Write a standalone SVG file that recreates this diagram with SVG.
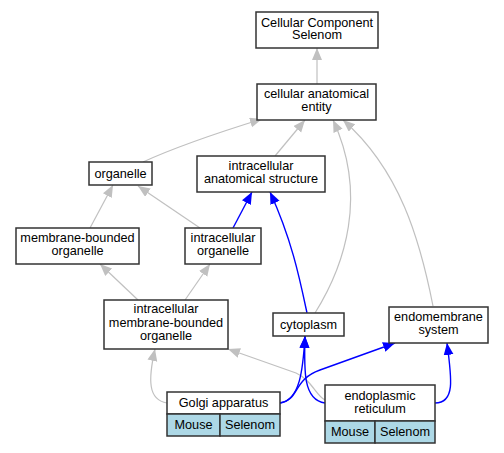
<svg xmlns="http://www.w3.org/2000/svg" width="504" height="453" viewBox="0 0 504 453">
<style>
text{font-family:"Liberation Sans",Arial,sans-serif;font-size:12.7px;fill:#000;text-anchor:middle}
.box{fill:#fff;stroke:#333;stroke-width:1.5}
.sp{fill:#add8e6;stroke:#333;stroke-width:1.5}
.g{fill:none;stroke:#c0c0c0;stroke-width:1.2}
.b{fill:none;stroke:#0000ff;stroke-width:1.4}
</style>
<defs>
<marker id="ag" markerUnits="userSpaceOnUse" markerWidth="13" markerHeight="11" refX="12" refY="5" orient="auto"><path d="M0,0 L12,5 L0,10 z" fill="#c0c0c0"/></marker>
<marker id="ab" markerUnits="userSpaceOnUse" markerWidth="13" markerHeight="11" refX="12" refY="5" orient="auto"><path d="M0,0 L12,5 L0,10 z" fill="#0000ff"/></marker>
</defs>
<rect width="504" height="453" fill="#fff"/>
<g id="connectors">
<path class="g" d="M317,84 L317,48" marker-end="url(#ag)"/>
<path class="g" d="M143,162 C180,145 220,132 262,119" marker-end="url(#ag)"/>
<path class="g" d="M275,156 L305,120" marker-end="url(#ag)"/>
<path class="g" d="M315,313 C345,265 368,195 333,120" marker-end="url(#ag)"/>
<path class="g" d="M433,306 C420,240 400,170 343,120" marker-end="url(#ag)"/>
<path class="g" d="M90,228 L113,185" marker-end="url(#ag)"/>
<path class="g" d="M200,228 L138,186" marker-end="url(#ag)"/>
<path class="b" d="M233,228 L252,192" marker-end="url(#ab)"/>
<path class="b" d="M307,313 C300,280 292,240 270,192" marker-end="url(#ab)"/>
<path class="g" d="M138,300 L100,264" marker-end="url(#ag)"/>
<path class="g" d="M185,300 L210,264" marker-end="url(#ag)"/>
<path class="g" d="M167,403 C148,400 148,380 155,349" marker-end="url(#ag)"/>
<path class="g" d="M325,400 C316,396 312,380 296,373 L228,349" marker-end="url(#ag)"/>
<path class="b" d="M280,403 C300,400 303,370 305,336" marker-end="url(#ab)"/>
<path class="b" d="M325,403 C303,400 304,370 305,336" marker-end="url(#ab)"/>
<path class="b" d="M280,403 C300,400 292,380 320,370 L395,343" marker-end="url(#ab)"/>
<path class="b" d="M435,403 C455,403 452,380 447,343" marker-end="url(#ab)"/>
</g>
<g id="ccs"><rect class="box" x="256" y="12" width="122" height="36"/><text x="317" y="26.5">Cellular Component</text><text x="317" y="39">Selenom</text></g>
<g id="cae"><rect class="box" x="257" y="84" width="119" height="36"/><text x="316.5" y="98">cellular anatomical</text><text x="316.5" y="111">entity</text></g>
<g id="organelle"><rect class="box" x="89" y="162" width="63" height="23"/><text x="120.5" y="177.5">organelle</text></g>
<g id="ias"><rect class="box" x="197" y="156" width="128" height="36"/><text x="261" y="169.5">intracellular</text><text x="261" y="182.5">anatomical structure</text></g>
<g id="mbo"><rect class="box" x="16" y="228" width="123" height="36"/><text x="77.5" y="241.5">membrane-bounded</text><text x="77.5" y="254.5">organelle</text></g>
<g id="io"><rect class="box" x="185" y="228" width="76" height="36"/><text x="223" y="241.5">intracellular</text><text x="223" y="254.5">organelle</text></g>
<g id="imbo"><rect class="box" x="104" y="300" width="124" height="49"/><text x="166" y="313">intracellular</text><text x="166" y="326.5">membrane-bounded</text><text x="166" y="340">organelle</text></g>
<g id="cytoplasm"><rect class="box" x="273" y="313" width="71" height="23"/><text x="308.5" y="328.5">cytoplasm</text></g>
<g id="ems"><rect class="box" x="389" y="307" width="99" height="36"/><text x="438.5" y="320.5">endomembrane</text><text x="438.5" y="333.5">system</text></g>
<g id="golgi"><rect class="box" x="167" y="392" width="113" height="22"/><rect class="sp" x="167" y="414" width="53" height="22"/><rect class="sp" x="220" y="414" width="60" height="22"/><text x="223.5" y="407">Golgi apparatus</text><text x="193.5" y="429">Mouse</text><text x="250" y="429">Selenom</text></g>
<g id="er"><rect class="box" x="325" y="385" width="110" height="36"/><rect class="sp" x="325" y="421" width="50" height="22"/><rect class="sp" x="375" y="421" width="60" height="22"/><text x="380" y="399.5">endoplasmic</text><text x="380" y="412.5">reticulum</text><text x="350" y="436">Mouse</text><text x="405" y="436">Selenom</text></g>
</svg>
